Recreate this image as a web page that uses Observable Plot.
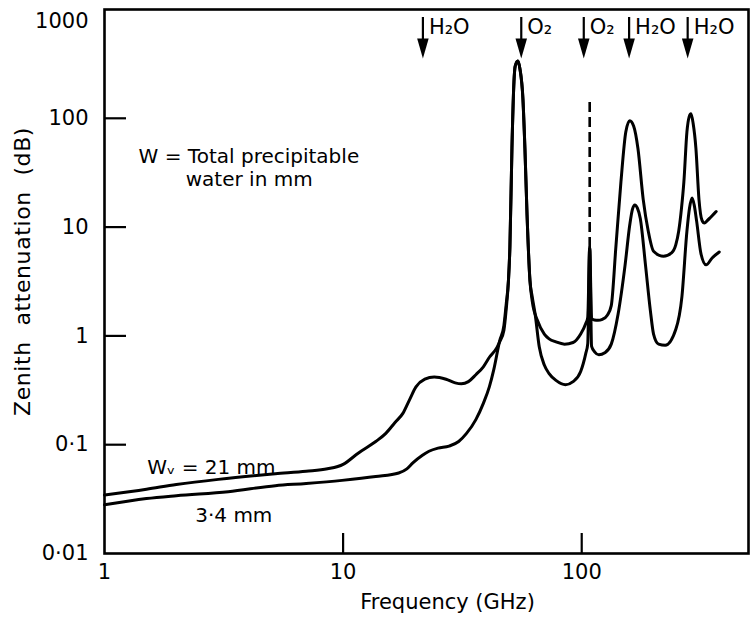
<!DOCTYPE html>
<html><head><meta charset="utf-8">
<script src="https://cdn.jsdelivr.net/npm/d3@7"></script>
<script src="https://cdn.jsdelivr.net/npm/@observablehq/plot@0.6"></script>
<style>html,body{margin:0;padding:0;background:#fff}#chart svg{display:block}</style>
</head><body><div id="chart"></div>
<script>
// ---- data ----
const freq21 = [1,1.5,2,3,5.2,7,8.6,10,11.6,13.7,15.1,16.5,17.8,19,20.2,22,24.1,27,29.5,31.3,33.5,36,38.7,41.1,44.1,45.3,47.2,48.3,49.3,50,51,52,52.6,54,55.1,56.7,57.8,59,60.7,62,65.2,69.7,73,78,84.7,92,99,104,106,108,110,113,117,122,128,133,139,146,153,159,165,172,181,190,200,220,238,248,255,262,268,276,282,287,293,301,310,319,327,335,348,359,366];
const att21 = [0.0345,0.039,0.043,0.048,0.054,0.057,0.060,0.066,0.084,0.107,0.127,0.16,0.194,0.26,0.34,0.40,0.42,0.40,0.37,0.363,0.38,0.44,0.52,0.64,0.78,0.88,1.13,1.8,3.2,6.5,53,216,300,336,284,151,53,13,3.2,2.1,1.39,1.04,0.94,0.88,0.84,0.87,1.04,1.3,1.48,6.5,1.45,1.40,1.39,1.42,1.55,1.9,6.5,26,75,95,85,53,18,9.2,6,5.4,5.8,6.9,9.2,15,26,75,103,110,90,53,18,11.6,10.9,11.4,12.4,13.3,13.9];
const freq34 = [1,1.5,2,3.3,5.2,7,9.9,13.7,17.1,18.5,19.6,21.5,22.9,25,27.8,30.5,32.9,36,38.7,41,42.8,45.3,47.2,48.3,49.3,50,51,52,52.6,54,55.1,56.7,57.8,59,60.7,62,63.8,66.4,69.7,73,78,85.5,92,99,104,106,108,110,113.5,118,125,133,142,152,159,163,167,171,176,185,194,200,210,224,248,263,276,283,290,296,303,316,332,352,377];
const att34 = [0.028,0.032,0.034,0.037,0.042,0.044,0.047,0.051,0.055,0.06,0.068,0.08,0.087,0.093,0.097,0.107,0.127,0.17,0.24,0.34,0.49,0.9,1.25,2.0,3.2,6.5,53,216,300,336,284,151,53,13,3.2,2.3,1.58,0.79,0.54,0.45,0.39,0.356,0.38,0.47,0.69,0.85,6.5,0.8,0.71,0.67,0.7,0.84,1.58,4.5,10.5,14.5,16,15,12,4.5,1.7,1.04,0.84,0.82,1.15,2.3,9.2,15,18.5,16,11.4,5.7,4.5,5.2,5.9];

// dashed continuation of the 118 GHz O2 line (frequency as drawn, attenuation range)
const spikeFreq = [108];
const spikeLow = [6.5];
const spikeHigh = [150];

// absorption line markers at the top
const lineFreq = [21.6, 55.8, 102, 158, 278];
const lineLabel = ["H₂O", "O₂", "O₂", "H₂O", "H₂O"];

// annotations (anchored in data space)
const noteText = ["W = Total precipitable", "water in mm", "Wᵥ = 21 mm", "3·4 mm"];
const noteFreq = [1.39, 2.19, 1.51, 2.4];
const noteAtt = [44.6, 27.4, 0.0617, 0.0223];

// ticks
const xTicks = [1, 10, 100, 500];
const xTickLabels = ["1", "10", "100", "500"];
const yTicks = [0.01, 0.1, 1, 10, 100, 1000];
const yTickLabels = ["0·01", "0·1", "1", "10", "100", "1000"];
const xInnerTicks = [10, 100];
const yInnerTicks = [0.1, 1, 10, 100];

// ---- build ----
const rows = [
  ...freq21.map((f, i) => ({f, a: att21[i], s: "21"})),
  ...freq34.map((f, i) => ({f, a: att34[i], s: "3.4"}))
];
const spikes = spikeFreq.map((f, i) => ({f, lo: spikeLow[i], hi: spikeHigh[i]}));
const lines = lineFreq.map((f, i) => ({f, label: lineLabel[i]}));
const notes = noteText.map((t, i) => ({t, f: noteFreq[i], a: noteAtt[i]}));
const yLab = d => yTickLabels[yTicks.indexOf(d)];
const yTop = yTicks[yTicks.length - 1];

const W = 756, H = 618, mL = 104, mR = 8, mT = 9, mB = 65;
const plotW = W - mL - mR, plotH = H - mT - mB;

const downTriangle = {
  draw(ctx, size) {
    const r = Math.sqrt(size / Math.PI);
    ctx.moveTo(0, r * 1.25);
    ctx.lineTo(-r * 0.72, -r * 1.25);
    ctx.lineTo(r * 0.72, -r * 1.25);
    ctx.closePath();
  }
};

const chart = Plot.plot({
  width: W, height: H,
  marginLeft: mL, marginRight: mR, marginTop: mT, marginBottom: mB,
  style: {fontFamily: "'DejaVu Sans', sans-serif", fontSize: "20px", color: "black", background: "white"},
  x: {type: "log", domain: [1, 500]},
  y: {type: "log", domain: [0.01, 1000]},
  marks: [
    Plot.axisY({ticks: yTicks.filter(d => d !== yTop), tickFormat: yLab, tickSize: 0, tickPadding: 16, fontSize: 21, label: null}),
    Plot.text([yTop], {y: d => d, text: yLab, frameAnchor: "left", textAnchor: "end", lineAnchor: "middle", dx: -16, dy: 12, fontSize: 21}),
    Plot.axisX({ticks: xTicks, tickFormat: d => xTickLabels[xTicks.indexOf(d)], tickSize: 0, tickPadding: 11, fontSize: 21, label: null}),
    Plot.ruleY(yInnerTicks, {insetRight: plotW - 22, strokeWidth: 2.2}),
    Plot.ruleX(xInnerTicks, {insetTop: plotH - 20, strokeWidth: 2.2}),
    Plot.frame({strokeWidth: 2.6}),
    Plot.line(rows, {x: "f", y: "a", z: "s", curve: "monotone-x", strokeWidth: 3, stroke: "black"}),
    Plot.ruleX(spikes, {x: "f", y1: "lo", y2: "hi", strokeWidth: 2.6, strokeDasharray: "10,5"}),
    Plot.ruleX(lines, {x: "f", insetTop: 8, insetBottom: plotH - 34, strokeWidth: 2.2}),
    Plot.dot(lines, {x: "f", frameAnchor: "top", dy: 39, symbol: downTriangle, r: 8, fill: "black", stroke: "none"}),
    Plot.text(lines, {x: "f", text: "label", frameAnchor: "top", lineAnchor: "middle", dy: 18, dx: 6, textAnchor: "start", fontSize: 21}),
    Plot.text(notes, {x: "f", y: "a", text: "t", textAnchor: "start", fontSize: 20}),
    Plot.text(["Frequency (GHz)"], {frameAnchor: "bottom", lineAnchor: "middle", textAnchor: "middle", dx: 21, dy: 49, fontSize: 21}),
    Plot.text(["Zenith attenuation (dB)"], {frameAnchor: "left", textAnchor: "middle", lineAnchor: "middle", rotate: -90, dx: -82, dy: -10, fontSize: 22})
  ]
});
d3.select(chart).selectAll("text")
  .filter(function() { return this.textContent === "Zenith attenuation (dB)"; })
  .attr("letter-spacing", "0.6px").attr("word-spacing", "8px");
document.getElementById("chart").appendChild(chart);
</script>
</body></html>
